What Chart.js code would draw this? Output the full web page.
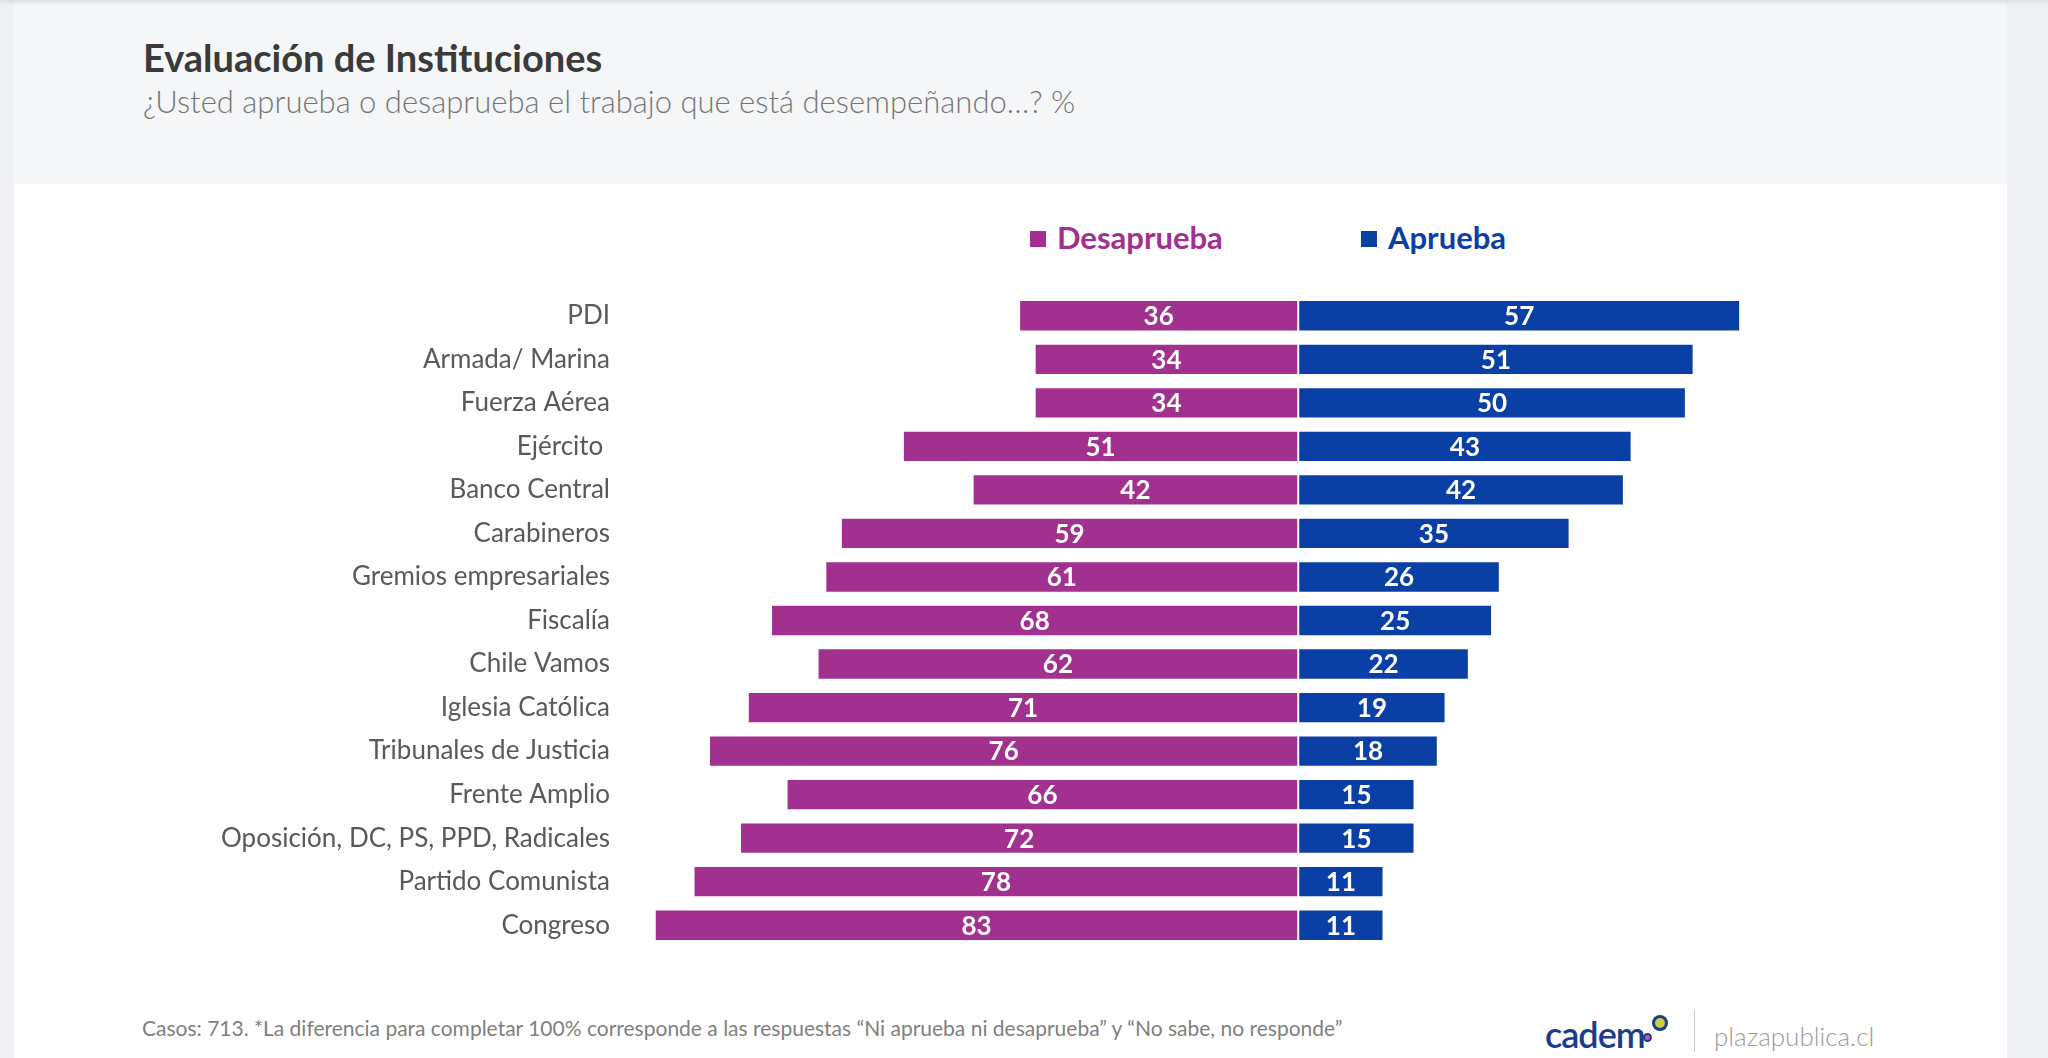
<!DOCTYPE html>
<html lang="es">
<head>
<meta charset="utf-8">
<script src="https://cdn.jsdelivr.net/npm/chart.js@4.4.1/dist/chart.umd.min.js"></script>
<style>
  body { margin: 0; width: 2048px; height: 1058px; background: #eff0f3; font-family: Lato, sans-serif; overflow: hidden; position: relative; }
  .head { position: absolute; left: 14px; top: 0; width: 1993px; height: 184px; background: #f5f6f8; }
  .shadow { position: absolute; left: 0; top: 0; width: 2048px; height: 5px; background: linear-gradient(#dcdde0, rgba(245,246,248,0)); }
  .panel { position: absolute; left: 14px; top: 184px; width: 1993px; height: 874px; background: #fff; }
  .title { position: absolute; left: 143px; top: 35px; line-height: 44px; font-size: 38px; font-weight: bold; color: #3a3a3a; white-space: nowrap; }
  .sub { position: absolute; left: 143px; top: 82px; line-height: 38px; font-size: 31px; font-weight: 300; color: #767676; white-space: nowrap; }
  .leg { position: absolute; top: 219px; line-height: 36px; font-size: 31px; font-weight: bold; white-space: nowrap; }
  .leg i { display: inline-block; width: 16px; height: 16px; margin-right: 11px; vertical-align: 2px; }
  .foot { position: absolute; left: 142px; top: 1015px; line-height: 26px; font-size: 21px; color: #7f7f7f; white-space: nowrap; }
  .cadem { position: absolute; left: 1545px; top: 1014px; line-height: 40px; font-size: 36px; font-weight: 600; color: #1b3c8c; letter-spacing: -1px; }
  .dot { position: absolute; border-radius: 50%; border-style: solid; border-color: #1b3c8c; }
  .sep { position: absolute; left: 1694px; top: 1010px; width: 1px; height: 42px; background: #c8c8c8; }
  .plaza { position: absolute; left: 1714px; top: 1019px; line-height: 34px; font-size: 26px; font-weight: 300; color: #9a9a9a; }
  canvas { position: absolute; left: 0; top: 0; }
</style>
</head>
<body>
<div class="head"></div>
<div class="shadow"></div>
<div class="panel"></div>
<div class="title">Evaluación de Instituciones</div>
<div class="sub">¿Usted aprueba o desaprueba el trabajo que está desempeñando…? %</div>
<div class="leg" style="left:1030px;color:#a1308e"><i style="background:#a1308e"></i>Desaprueba</div>
<div class="leg" style="left:1361px;color:#0a3fa6"><i style="background:#0a3fa6"></i>Aprueba</div>
<div class="foot">Casos: 713. *La diferencia para completar 100% corresponde a las respuestas “Ni aprueba ni desaprueba” y “No sabe, no responde”</div>
<div class="cadem">cadem</div>
<div class="dot" style="left:1643px;top:1033px;width:5px;height:5px;border-width:2px;background:#c25a9c"></div>
<div class="dot" style="left:1652px;top:1015px;width:10px;height:10px;border-width:3px;background:#c9d235"></div>
<div class="sep"></div>
<div class="plaza">plazapublica.cl</div>
<canvas id="evalChart" width="2048" height="1058"></canvas>
<script>
const instituciones = ["PDI", "Armada/ Marina", "Fuerza Aérea", "Ejército ", "Banco Central", "Carabineros",
    "Gremios empresariales", "Fiscalía", "Chile Vamos", "Iglesia Católica", "Tribunales de Justicia",
    "Frente Amplio", "Oposición, DC, PS, PPD, Radicales", "Partido Comunista", "Congreso"];
const desaprueba = [36, 34, 34, 51, 42, 59, 61, 68, 62, 71, 76, 66, 72, 78, 83];
const aprueba = [57, 51, 50, 43, 42, 35, 26, 25, 22, 19, 18, 15, 15, 11, 11];

const colorDesaprueba = "#a1308e";
const colorAprueba = "#0a3fa6";

// numbers in white, centred in each bar
const barLabels = {
    id: "barLabels",
    afterDatasetsDraw(chart) {
        const ctx = chart.ctx;
        ctx.save();
        ctx.font = "bold 26px Lato";
        ctx.fillStyle = "#fff";
        ctx.textAlign = "center";
        ctx.textBaseline = "middle";
        chart.data.datasets.forEach((ds, i) => {
            chart.getDatasetMeta(i).data.forEach((bar, j) => {
                ctx.fillText(Math.abs(ds.data[j]), (bar.x + bar.base) / 2, bar.y + 1);
            });
        });
        ctx.restore();
    }
};

new Chart("evalChart", {
    type: "bar",
    data: {
        labels: instituciones,
        datasets: [{
            label: "Desaprueba",
            data: desaprueba.map(v => -v),
            backgroundColor: colorDesaprueba,
            borderColor: "#fff",
            borderWidth: 1,
            borderSkipped: false,
            barPercentage: 0.72,
            categoryPercentage: 1
        }, {
            label: "Aprueba",
            data: aprueba,
            backgroundColor: colorAprueba,
            borderColor: "#fff",
            borderWidth: 1,
            borderSkipped: false,
            barPercentage: 0.72,
            categoryPercentage: 1
        }]
    },
    options: {
        indexAxis: "y",
        responsive: false,
        animation: false,
        layout: { padding: { top: 294, bottom: 111, left: 0, right: 52 } },
        plugins: {
            legend: { display: false },
            tooltip: { enabled: false }
        },
        scales: {
            x: { display: false, stacked: true, min: -88, max: 90 },
            y: {
                stacked: true,
                grid: { display: false, drawTicks: false },
                border: { display: false },
                ticks: { padding: 6, color: "#595959", font: { family: "Lato", size: 26 } },
                afterFit(scale) { scale.width = 616; }
            }
        }
    },
    plugins: [barLabels]
});
</script>
</body>
</html>
